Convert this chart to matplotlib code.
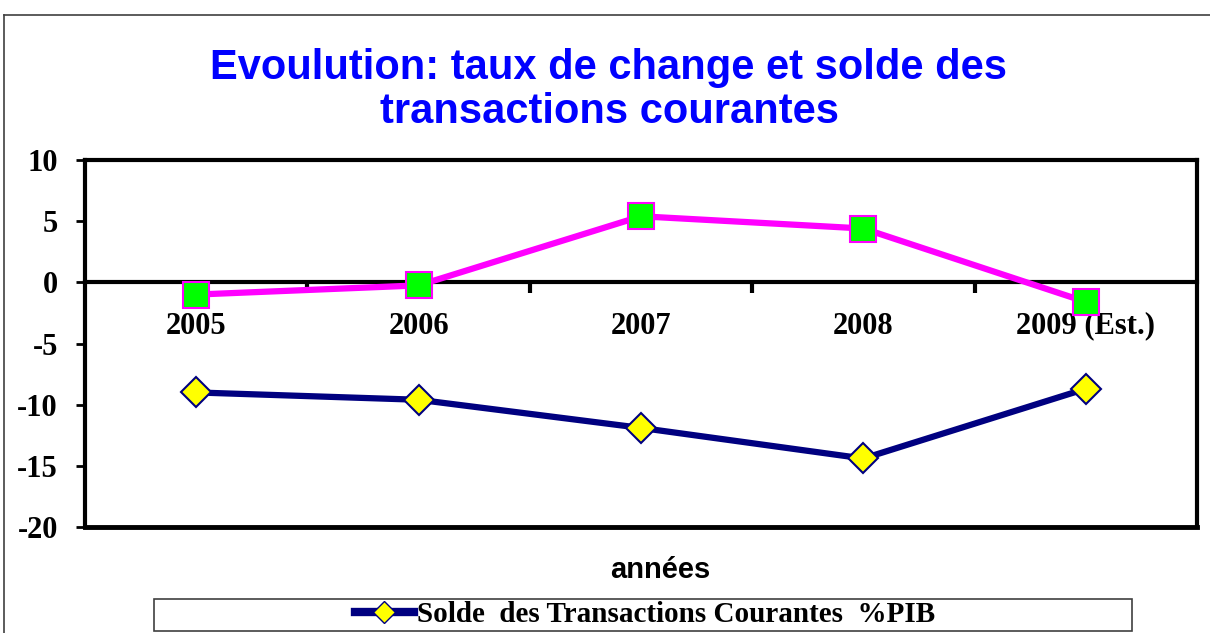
import matplotlib.pyplot as plt
from matplotlib.lines import Line2D
from matplotlib.patches import Rectangle

# data
years = ['2005', '2006', '2007', '2008', '2009 (Est.)']
taux_change = [-1.0, -0.25, 5.4, 4.4, -1.6]
solde_tc = [-9.0, -9.6, -11.9, -14.4, -8.7]

plt.rcParams['font.family'] = ['Liberation Serif', 'DejaVu Serif']
plt.rcParams['axes.unicode_minus'] = False

fig = plt.figure(figsize=(12.1, 6.33), dpi=100)
ax = fig.add_axes([85 / 1210, 1 - 527 / 633, 1112 / 1210, 367 / 633])

xpos = [i + 0.5 for i in range(len(years))]

ax.plot(xpos, taux_change, color='#FF00FF', lw=4.5, marker='s', ms=19,
        mfc='#00FF00', mec='#FF00FF', mew=1.5, zorder=4, clip_on=False)
ax.plot(xpos, solde_tc, color='#000080', lw=4.5, marker='D', ms=15,
        mfc='#FFFF00', mec='#000080', mew=1.5, zorder=4, clip_on=False)

ax.set_xlim(0, len(years))
ax.set_ylim(-20, 10)
ax.set_yticks(range(-20, 11, 5))
ax.tick_params(axis='y', direction='out', length=6.5, width=2, labelsize=22, pad=13)
for lbl in ax.get_yticklabels():
    lbl.set_fontweight('bold')

# x axis sits on the zero line, frame around the plot area
for s in ['left', 'right', 'top', 'bottom']:
    ax.spines[s].set_linewidth(3)
ax.spines['bottom'].set_position(('data', 0))
ax.axhline(-20, color='black', lw=3.5, clip_on=False, zorder=5)

ax.set_xticks([1, 2, 3, 4])
ax.set_xticklabels([])
ax.set_xticks(xpos, minor=True)
ax.set_xticklabels(years, minor=True, fontsize=22, fontweight='bold')
ax.tick_params(axis='x', which='major', direction='out', length=8, width=3)
ax.tick_params(axis='x', which='minor', length=0, pad=21)

fig.text(609 / 1210, 1 - 90 / 633, 'Evoulution: taux de change et solde des\ntransactions courantes',
         ha='center', va='center', color='#0000FF', fontsize=30, fontweight='bold',
         family='Liberation Sans', linespacing=1.14)
fig.text(660 / 1210, 1 - 570 / 633, 'années', ha='center', va='center',
         fontsize=21, fontweight='bold', family='Liberation Sans')

# legend box
fig.add_artist(Rectangle((154 / 1210, 1 - 631 / 633), 978 / 1210, 32 / 633,
                         transform=fig.transFigure, fill=False,
                         edgecolor='#404040', lw=1.2))
handle = Line2D([], [], color='#000080', lw=6, marker='D', ms=11,
                mfc='#FFFF00', mec='#000080')
fig.legend([handle], ['Solde  des Transactions Courantes  %PIB'],
           loc='center', bbox_to_anchor=(645 / 1210, 1 - 615 / 633),
           frameon=False, handlelength=2.0, handletextpad=0.1,
           prop={'family': 'Liberation Serif', 'weight': 'bold', 'size': 21},
           borderpad=0.1)

# outer chart frame
fig.add_artist(Line2D([4 / 1210, 4 / 1210], [0, 1 - 15 / 633],
                      transform=fig.transFigure, color='#404040', lw=1.2))
fig.add_artist(Line2D([4 / 1210, 1], [1 - 15 / 633, 1 - 15 / 633],
                      transform=fig.transFigure, color='#404040', lw=1.2))

fig.savefig('out.png', dpi=100)
